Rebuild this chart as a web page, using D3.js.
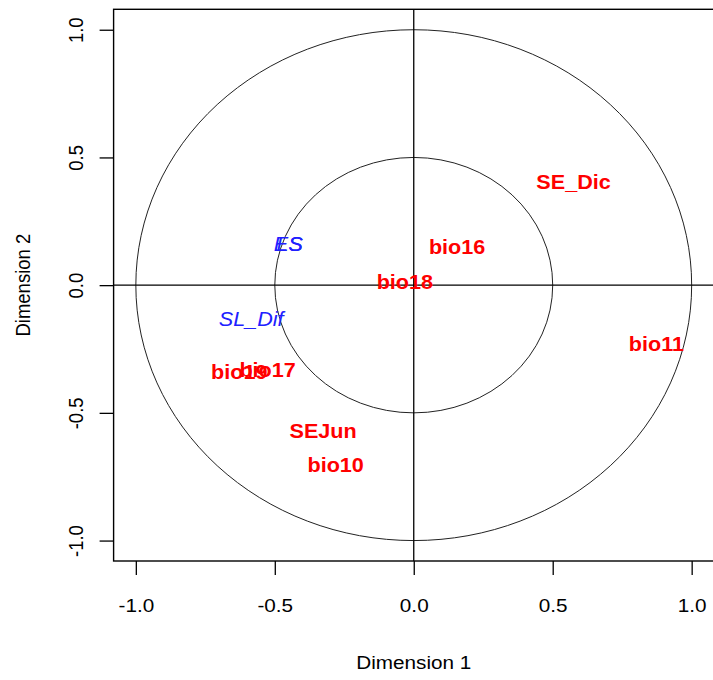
<!DOCTYPE html>
<html><head><meta charset="utf-8">
<script src="https://cdn.jsdelivr.net/npm/d3@7"></script>
<style>
body{margin:0;background:#fff;}
svg{display:block;font-family:"Liberation Sans",Arial,sans-serif;}
</style></head>
<body><svg id="chart" width="713" height="680"></svg>
<script>
// Data
const redLabels = ["SE_Dic","bio16","bio18","bio11","SEJun","bio10","bio17","bio19"];
const redX      = [0.575, 0.156, -0.032, 0.873, -0.326, -0.281, -0.526, -0.628];
const redY      = [0.405, 0.149, 0.012, -0.229, -0.572, -0.703, -0.333, -0.339];
const blueLabels = ["ES","LS","SL_Dif"];
const blueX      = [-0.452, -0.446, -0.585];
const blueY      = [0.162, 0.162, -0.131];
const circleRadii = [1, 0.5];
const tickValues = [-1, -0.5, 0, 0.5, 1];
const tickLabels = ["-1.0","-0.5","0.0","0.5","1.0"];
const xTitle = "Dimension 1", yTitle = "Dimension 2";
const lim = [-1.08, 1.08];

const svg = d3.select("#chart");
const L = 113.6, R = 713.9, T = 9.3, B = 561;
const x = d3.scaleLinear().domain(lim).range([L, R]);
const y = d3.scaleLinear().domain(lim).range([B, T]);
const SX = 1.12;

// circles
svg.append("g").selectAll("ellipse").data(circleRadii).join("ellipse")
  .attr("cx", x(0)).attr("cy", y(0))
  .attr("rx", d => x(d) - x(0)).attr("ry", d => y(0) - y(d))
  .attr("fill", "none").attr("stroke", "#222").attr("stroke-width", 1);

// reference lines
svg.append("line").attr("x1", x(lim[0])).attr("x2", x(lim[1])).attr("y1", y(0)).attr("y2", y(0))
  .attr("stroke", "#000").attr("stroke-width", 1.3);
svg.append("line").attr("x1", x(0)).attr("x2", x(0)).attr("y1", y(lim[0])).attr("y2", y(lim[1]))
  .attr("stroke", "#000").attr("stroke-width", 1.3);

// box
svg.append("rect").attr("x", L).attr("y", T).attr("width", R - L).attr("height", B - T)
  .attr("fill", "none").attr("stroke", "#000").attr("stroke-width", 1.4);

// axes
const xAxis = svg.append("g").attr("transform", `translate(0,${B})`)
  .call(d3.axisBottom(x).tickValues(tickValues).tickFormat((d,i) => tickLabels[i]).tickSize(14).tickSizeOuter(0));
xAxis.select(".domain").remove();
xAxis.selectAll("line").attr("stroke", "#000").attr("stroke-width", 1.3);
xAxis.selectAll("text").attr("y", 51).attr("dy", null)
  .attr("font-size", 18.5).attr("fill", "#000").attr("font-family", '"Liberation Sans",Arial,sans-serif')
  .attr("transform", `scale(${SX},1)`);

const yAxis = svg.append("g").attr("transform", `translate(${L},0)`)
  .call(d3.axisLeft(y).tickValues(tickValues).tickFormat((d,i) => tickLabels[i]).tickSize(14).tickSizeOuter(0));
yAxis.select(".domain").remove();
yAxis.selectAll("line").attr("stroke", "#000").attr("stroke-width", 1.3);
yAxis.selectAll("text").attr("x", 0).attr("y", 0).attr("dy", null)
  .attr("text-anchor", "middle")
  .attr("font-size", 18.5).attr("fill", "#000").attr("font-family", '"Liberation Sans",Arial,sans-serif')
  .attr("transform", `translate(-31,0) scale(${SX},1) rotate(-90)`);

// titles
svg.append("text").attr("text-anchor", "middle").attr("font-size", 18.5)
  .attr("transform", `translate(${(L + R) / 2},669) scale(${SX},1)`).text(xTitle);
svg.append("text").attr("text-anchor", "middle").attr("font-size", 18.5)
  .attr("transform", `translate(30,${(T + B) / 2}) scale(${SX},1) rotate(-90)`).text(yTitle);

// labels
const fs = 20;
svg.append("g").selectAll("text").data(redLabels).join("text")
  .attr("text-anchor", "middle").attr("font-size", fs).attr("font-weight", "bold").attr("fill", "#ff0000")
  .attr("transform", (d,i) => `translate(${x(redX[i])},${y(redY[i]) + 0.358 * fs}) scale(1.08,1)`)
  .text(d => d);
svg.append("g").selectAll("text").data(blueLabels).join("text")
  .attr("text-anchor", "middle").attr("font-size", fs).attr("font-style", "italic").attr("fill", "#2020ff")
  .attr("transform", (d,i) => `translate(${x(blueX[i])},${y(blueY[i]) + 0.358 * fs}) scale(1.08,1)`)
  .text(d => d);
</script></body></html>
